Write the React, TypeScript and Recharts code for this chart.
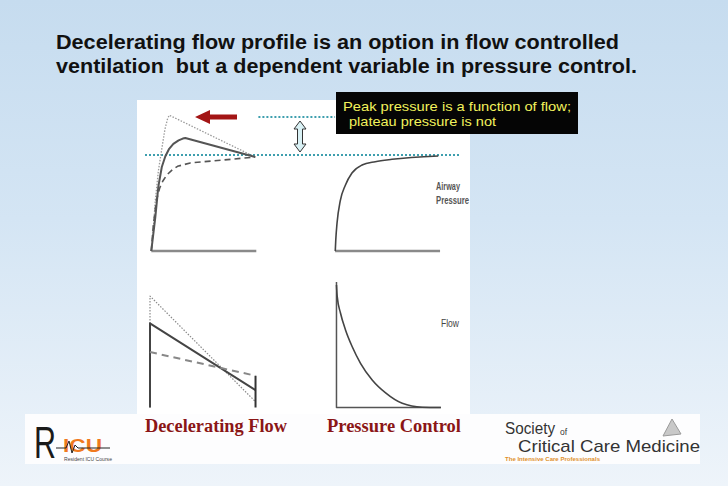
import { LineChart, Line, XAxis, YAxis, ReferenceLine } from "recharts";

type Pt = { t: number; v: number };

// airway pressure (top panels), time units, pressure in % of scale
const volDotted: Pt[] = [
  { t: 0, v: 0 }, { t: 1.9, v: 15 }, { t: 3.8, v: 36 }, { t: 6.7, v: 57 },
  { t: 10, v: 73 }, { t: 13, v: 87 }, { t: 15.5, v: 94.5 }, { t: 17.1, v: 97 },
  { t: 99, v: 67.1 },
];
const volSolid: Pt[] = [
  { t: 0, v: 0 }, { t: 3.8, v: 24 }, { t: 6.7, v: 46 }, { t: 10, v: 60 }, { t: 13.3, v: 67.5 },
  { t: 17, v: 73 }, { t: 21, v: 76.5 }, { t: 26, v: 79 }, { t: 30, v: 80.3 }, { t: 32.4, v: 80.7 },
  { t: 99, v: 67.1 },
];
const volDashed: Pt[] = [
  { t: 0, v: 0 }, { t: 1.9, v: 18 }, { t: 4.8, v: 36 }, { t: 8, v: 45 }, { t: 11, v: 50 },
  { t: 15, v: 54.5 }, { t: 20, v: 58 }, { t: 25, v: 60.5 }, { t: 37.1, v: 62.9 }, { t: 68.6, v: 65 },
  { t: 99, v: 67.1 },
];
const pcPressure: Pt[] = [
  { t: 175.2, v: 0 }, { t: 175.7, v: 8 }, { t: 176.9, v: 20 }, { t: 180, v: 36 },
  { t: 184.8, v: 47 }, { t: 191.1, v: 55.7 }, { t: 200.7, v: 61.4 }, { t: 213.3, v: 63.8 },
  { t: 229.2, v: 65.5 }, { t: 273.3, v: 67.9 },
];
const baseLeft: Pt[] = [{ t: 0, v: 0 }, { t: 100, v: 0 }];
const baseRight: Pt[] = [{ t: 175, v: 0 }, { t: 275, v: 0 }];
const plateauLevel = 68.6;
const peakLevel = 95.7;

// flow (bottom panels)
const flowDotted: Pt[] = [{ t: 0, v: 0 }, { t: 0, v: 88.8 }, { t: 100.5, v: 4.6 }];
const flowSolid: Pt[] = [{ t: 0, v: 0 }, { t: 0, v: 67.1 }, { t: 100.5, v: 13.9 }];
const flowDashed: Pt[] = [{ t: 0, v: 44.2 }, { t: 100.5, v: 25.3 }];
const flowEnd: Pt[] = [{ t: 100.5, v: 25.3 }, { t: 100.5, v: 0 }];
const pcFlow: Pt[] = [
  { t: 177.6, v: 97.6 }, { t: 178.3, v: 88.3 }, { t: 181.4, v: 75.3 }, { t: 186.2, v: 61.8 },
  { t: 192.6, v: 48.4 }, { t: 200.5, v: 35.2 }, { t: 211.6, v: 21.9 }, { t: 224.4, v: 11.6 },
  { t: 240.2, v: 3.3 }, { t: 259.2, v: 0.2 }, { t: 277, v: 0 },
];
const pcFlowAxis: Pt[] = [{ t: 177.6, v: 100 }, { t: 177.6, v: 0 }, { t: 277, v: 0 }];

const captions = ["Decelerating Flow", "Pressure Control"];
const boxLines = ["Peak pressure is a function of flow;", " plateau pressure is not"];
const titleLines = [
  "Decelerating flow profile is an option in flow controlled",
  "ventilation  but a dependent variable in pressure control.",
];

const cyan = "#3e9fae";
const solid = "#555";
const sans = "'Liberation Sans', Arial, sans-serif";

export default function App() {
  const line = (key: string, data: Pt[], stroke: string, w: number, dash?: string, type: "monotone" | "linear" = "monotone") => (
    <Line
      key={key}
      data={data}
      dataKey="v"
      type={type}
      stroke={stroke}
      strokeWidth={w}
      strokeDasharray={dash}
      strokeLinejoin="round"
      dot={false}
      activeDot={false}
      isAnimationActive={false}
    />
  );

  return (
    <div
      style={{
        position: "fixed", left: 0, top: 0, width: 728, height: 486, overflow: "hidden",
        background: "linear-gradient(#c6dcef 0%, #d4e5f4 45%, #eef4fa 100%)",
      }}
    >
      <div style={{ position: "absolute", left: 137, top: 100, width: 333, height: 315, background: "#fff" }} />
      <div style={{ position: "absolute", left: 25, top: 414, width: 675, height: 50, background: "#fdfdfe" }} />

      <div style={{ position: "absolute", left: 134.7, top: 101 }}>
        <LineChart width={335} height={160} margin={{ top: 10, right: 10, bottom: 10, left: 10 }}>
          <XAxis type="number" dataKey="t" domain={[-6, 294]} hide allowDataOverflow />
          <YAxis type="number" dataKey="v" domain={[0, 100]} hide />
          <ReferenceLine y={plateauLevel} stroke={cyan} strokeWidth={2} strokeDasharray="2 2" />
          <ReferenceLine
            segment={[{ x: 102, y: peakLevel }, { x: 175, y: peakLevel }]}
            stroke={cyan} strokeWidth={2} strokeDasharray="2 2"
          />
          {line("bl", baseLeft, "#8a8a8a", 2.5, undefined, "linear")}
          {line("br", baseRight, "#8a8a8a", 2.5, undefined, "linear")}
          {line("vd", volDotted, "#9a9a9a", 1.3, "1.5 1.5", "linear")}
          {line("vs", volSolid, solid, 2, undefined, "linear")}
          {line("vh", volDashed, solid, 1.6, "6 4", "linear")}
          {line("pc", pcPressure, "#444", 1.6)}
        </LineChart>
      </div>

      <div style={{ position: "absolute", left: 139.5, top: 272 }}>
        <LineChart width={324.5} height={145.5} margin={{ top: 10, right: 10, bottom: 10, left: 10 }}>
          <XAxis type="number" dataKey="t" domain={[0, 290]} hide />
          <YAxis type="number" dataKey="v" domain={[0, 100]} hide />
          {line("fd", flowDotted, "#8a8a8a", 1.2, "1.5 1.5", "linear")}
          {line("fs", flowSolid, "#444", 2, undefined, "linear")}
          {line("fh", flowDashed, "#888", 2, "7 5", "linear")}
          {line("fe", flowEnd, "#333", 2, undefined, "linear")}
          {line("fa", pcFlowAxis, "#555", 1.5, undefined, "linear")}
          {line("pf", pcFlow, "#444", 1.6)}
        </LineChart>
      </div>

      <svg width={728} height={486} style={{ position: "absolute", left: 0, top: 0, pointerEvents: "none" }}>
        {titleLines.map((s, i) => (
          <text key={s} x={56} y={49 + i * 24} fontFamily={sans} fontWeight="bold" fontSize={19.5} fill="#111"
            textLength={i === 0 ? 563 : 581} lengthAdjust="spacingAndGlyphs" xmlSpace="preserve">{s}</text>
        ))}

        <rect x={336} y={92} width={242} height={42} fill="#050505" />
        {boxLines.map((s, i) => (
          <text key={s} x={i === 0 ? 343 : 345} y={111 + i * 15} fontFamily={sans} fontSize={13} fill="#f2f25c"
            textLength={i === 0 ? 228 : 151} lengthAdjust="spacingAndGlyphs" xmlSpace="preserve">{s}</text>
        ))}

        {/* red arrow */}
        <polygon points="195,117 210,110 210,114.5 237,114.5 237,119.5 210,119.5 210,124" fill="#a31515" />
        {/* double arrow */}
        <polygon
          points="300,121 306,129 302.5,129 302.5,144 306,144 300,152 294,144 297.5,144 297.5,129 294,129"
          fill="#d9f1f5" stroke="#333" strokeWidth={1}
        />

        <text x={436} y={190} fontFamily={sans} fontWeight="bold" fontSize={10.5} fill="#555" textLength={24} lengthAdjust="spacingAndGlyphs">Airway</text>
        <text x={436} y={204} fontFamily={sans} fontWeight="bold" fontSize={10.5} fill="#555" textLength={33} lengthAdjust="spacingAndGlyphs">Pressure</text>
        <text x={441} y={327} fontFamily={sans} fontSize={11} fill="#444" textLength={18} lengthAdjust="spacingAndGlyphs">Flow</text>

        {captions.map((s, i) => (
          <text key={s} x={i === 0 ? 145 : 327} y={432} fontFamily="'Liberation Serif', 'Times New Roman', serif"
            fontWeight="bold" fontSize={18} fill="#8b1616" textLength={i === 0 ? 142 : 134} lengthAdjust="spacingAndGlyphs">{s}</text>
        ))}

        {/* RICU logo */}
        <text x={34} y={458} fontFamily={sans} fontSize={44} fill="#1a1a1a" textLength={22} lengthAdjust="spacingAndGlyphs">R</text>
        <text x={63} y={452} fontFamily={sans} fontWeight="bold" fontSize={19} fill="#f07a1e" textLength={39} lengthAdjust="spacingAndGlyphs">ICU</text>
        <polyline points="56,448 66,448 69,441 72,453 75,445 78,448 110,448" fill="none" stroke="#222" strokeWidth={1} />
        <text x={64} y={461} fontFamily={sans} fontSize={4.5} fill="#444" textLength={48} lengthAdjust="spacingAndGlyphs">Resident ICU Course</text>

        {/* SCCM logo */}
        <text x={505} y={434} fontFamily={sans} fontSize={16} fill="#333" textLength={50} lengthAdjust="spacingAndGlyphs">Society</text>
        <text x={560} y={435} fontFamily={sans} fontSize={8.5} fill="#333">of</text>
        <text x={518} y={452} fontFamily={sans} fontSize={17} fill="#333" textLength={182} lengthAdjust="spacingAndGlyphs">Critical Care Medicine</text>
        <text x={505} y={461} fontFamily={sans} fontWeight="bold" fontSize={5.5} fill="#e0902a" textLength={95} lengthAdjust="spacingAndGlyphs">The Intensive Care Professionals</text>
        <polygon points="672,419 681,434 663,436" fill="#c8c8c8" stroke="#9a9a9a" strokeWidth={1} />
      </svg>
    </div>
  );
}
